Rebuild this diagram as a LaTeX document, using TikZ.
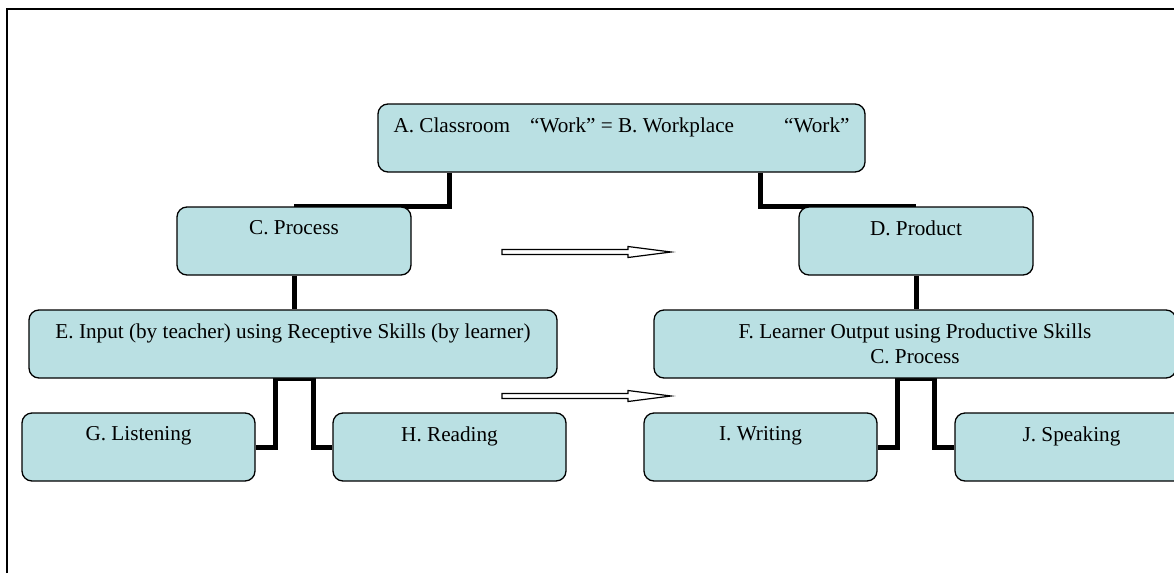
\documentclass[tikz,border=0pt]{standalone}
\usepackage{fontspec}
\setmainfont{Liberation Serif}
\usetikzlibrary{backgrounds}
\definecolor{boxblue}{RGB}{186,224,227}
\tikzset{
  box/.style={draw, fill=boxblue, line width=1.3pt, rounded corners=10pt,
    minimum height=68pt, inner sep=0pt},
  boxtext/.style={anchor=north, yshift=-14pt, inner sep=0pt, align=center,
    font=\fontsize{21.2pt}{25pt}\selectfont},
  link/.style={line width=5pt},
  hollowarrow/.style={draw, fill=white, line width=1.2pt}
}
\begin{document}
\begin{tikzpicture}[x=1pt, y=-1pt]
    \useasboundingbox (0,0) rectangle (1174,573);
    \draw[line width=2pt] (7,573) -- (7,9) -- (1174,9);

    % top row
    \node[box, minimum width=487pt,
      label={[boxtext]north:{A. Classroom\hspace{20pt}“Work” = B. Workplace\hspace{50pt}“Work”}}] (a) at (621.5,138) {};

    % process / product
    \node[box, minimum width=234pt, label={[boxtext]north:{C. Process}}] (c) at (294,241) {};
    \node[box, minimum width=234pt, label={[boxtext]north:{D. Product}}] (d) at (916,241) {};

    \node[box, minimum width=528pt,
      label={[boxtext]north:{E. Input (by teacher) using Receptive Skills (by learner)}}] (e) at (293,344) {};
    \node[box, minimum width=522pt,
      label={[boxtext]north:{F. Learner Output using Productive Skills\\C. Process}}] (f) at (915,344) {};

    % skills
    \node[box, minimum width=233pt, label={[boxtext]north:{G. Listening}}] (g) at (138.5,447) {};
    \node[box, minimum width=233pt, label={[boxtext]north:{H. Reading}}] (h) at (449.5,447) {};
    \node[box, minimum width=233pt, label={[boxtext]north:{I. Writing}}] (i) at (760.5,447) {};
    \node[box, minimum width=233pt, label={[boxtext]north:{J. Speaking}}] (j) at (1071.5,447) {};

    \begin{scope}[on background layer]
      \draw[link] ([xshift=72pt]a.south west) |- (c.north);
      \draw[link] ([xshift=383pt]a.south west) |- (d.north);
      \draw[link] (c.south) -- (c.south |- e.north);
      \draw[link] (d.south) -- (d.south |- f.north);
      \draw[link] (g.east) -| ([xshift=-18pt]e.south) -- ([xshift=20pt]e.south) |- (h.west);
      \draw[link] (i.east) -| ([xshift=-18pt]f.south) -- ([xshift=19pt]f.south) |- (j.west);
    \end{scope}

    \foreach \y in {252, 396}
      \draw[hollowarrow] (502,\y-2.5) -- (628,\y-2.5) -- (628,\y-5.5) -- (671,\y)
        -- (628,\y+5.5) -- (628,\y+2.5) -- (502,\y+2.5) -- cycle;
  \end{tikzpicture}
\end{document}
